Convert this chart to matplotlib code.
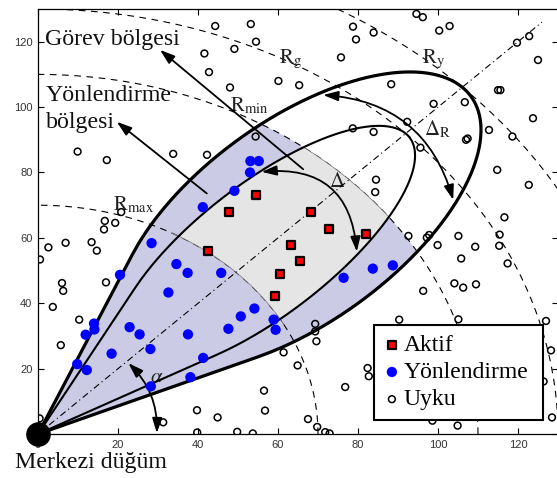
import numpy as np
import matplotlib
matplotlib.use('Agg')
import matplotlib.pyplot as plt

plt.rcParams['mathtext.fontset'] = 'stix'
SERIF = ['Liberation Serif', 'DejaVu Serif']

# node positions
aktif_x = [42.6, 47.7, 54.4, 68.3, 72.8, 63.3, 65.6, 60.5, 59.3, 81.9]
aktif_y = [55.9, 67.8, 73.0, 67.8, 62.8, 57.8, 52.8, 49.0, 42.1, 61.2]

yonl_x = [53.1, 55.2, 53.0, 49.1, 41.2, 28.4, 20.5, 34.6, 37.4, 45.8, 32.6,
          14.0, 14.1, 11.9, 22.9, 25.4, 18.4, 28.1, 37.5, 9.8, 12.2, 41.3,
          38.1, 28.2, 47.6, 50.7, 54.1, 58.9, 59.4, 76.4, 83.7, 88.7]
yonl_y = [83.5, 83.5, 80.0, 74.4, 69.4, 58.4, 48.7, 52.0, 49.3, 49.3, 43.3,
          33.8, 32.0, 30.4, 32.7, 30.5, 24.6, 26.0, 30.5, 21.4, 19.6, 23.3,
          17.4, 14.6, 32.2, 36.0, 38.4, 35.0, 31.9, 47.8, 50.6, 51.6]

uyku_x = [44.3, 53.2, 54.5, 41.6, 49.1, 42.75, 48.0, 60.1, 65.3, 9.9, 17.2,
          33.8, 42.25, 54.4, 20.8, 16.7, 19.3, 16.5, 2.6, 6.9, 13.4, 14.7,
          0.5, 6.0, 6.3, 3.7, 17.0, 10.3, 5.7, 0.4, 39.75, 44.9, 31.3, 39.8,
          49.8, 53.7, 56.5, 56.75, 94.6, 96.2, 78.75, 79.5, 83.9, 100.3,
          102.9, 75.75, 88.3, 119.75, 122.8, 125.0, 115.0, 115.6, 98.9,
          106.7, 123.75, 92.3, 78.7, 83.9, 112.75, 118.6, 107.4, 107.0, 95.6,
          114.8, 122.7, 84.5, 84.3, 116.6, 92.6, 97.8, 97.2, 105.1, 115.4,
          99.9, 109.3, 115.3, 105.8, 117.4, 104.1, 106.3, 109.5, 96.3, 105.1,
          127.0, 90.3, 128.25, 128.5, 126.4, 69.3, 69.3, 69.6, 61.4, 64.9,
          82.4, 82.7, 76.8, 67.5, 69.8, 71.8, 72.9, 98.6, 104.9]
uyku_y = [124.8, 125.4, 120.0, 116.4, 117.8, 110.7, 106.0, 108.0, 106.7, 86.4,
          83.8, 85.7, 85.4, 91.0, 67.9, 65.2, 64.6, 62.6, 57.1, 58.5, 58.7,
          56.1, 53.4, 46.2, 43.8, 38.9, 46.4, 35.0, 27.2, 4.8, 7.3, 5.1, 3.6,
          0.5, 0.7, 0.2, 13.3, 7.2, 128.5, 127.5, 124.6, 120.7, 122.8, 123.4,
          124.8, 115.2, 107.0, 119.7, 121.7, 114.4, 105.2, 105.2, 101.0,
          101.5, 96.6, 95.5, 93.5, 92.4, 93.0, 91.0, 90.4, 90.0, 87.6, 80.8,
          76.2, 77.8, 74.0, 66.3, 60.6, 60.9, 60.1, 60.6, 61.0, 57.8, 57.3,
          57.6, 53.7, 52.2, 46.1, 44.8, 45.8, 43.8, 35.1, 34.6, 35.0, 25.6,
          5.1, 16.1, 33.7, 31.4, 28.4, 25.0, 21.0, 20.2, 17.7, 14.4, 4.6, 2.2,
          0.6, 0.2, 4.1, 2.6]

circle_radii = [70, 110, 130, 150]
axis_angle = 45
# teardrops: ellipse cap (centre along axis, semi axes) + tangent lines from origin
outer_shape = (92, 58, 28.5)
inner_shape = (80, 50, 18.5)
r_low, r_high = 70, 110


def cap_radius(phi, c, a, b):
    A = np.cos(phi)**2 / a**2 + np.sin(phi)**2 / b**2
    B = -2 * c * np.cos(phi) / a**2
    C = c**2 / a**2 - 1
    disc = np.clip(B**2 - 4 * A * C, 0, None)
    return (-B + np.sqrt(disc)) / (2 * A)


def polar_xy(r, phi):
    th = np.radians(axis_angle) + phi
    return r * np.cos(th), r * np.sin(th)


def shape_polar(c, a, b, n=500):
    beta = np.arctan(b / np.sqrt(c**2 - a**2))
    phi = np.linspace(-beta, beta, n)
    return phi, cap_radius(phi, c, a, b)


fig = plt.figure(figsize=(5.57, 4.78), dpi=100)
ax = fig.add_axes([38 / 557, 43.9 / 478, 520 / 557, 425.1 / 478])

phi_o, r_o = shape_polar(*outer_shape)
phi_i, r_i = shape_polar(*inner_shape)

# lavender region
lx, ly = polar_xy(np.minimum(r_o, r_high), phi_o)
ax.fill(np.r_[0, lx, 0], np.r_[0, ly, 0], color='#CBCBE6', lw=0, zorder=1)

for R in circle_radii:
    t = np.linspace(0, np.pi / 2, 400)
    ax.plot(R * np.cos(t), R * np.sin(t), color='k', lw=0.8,
            ls=(0, (6, 5)), zorder=2)

# gray region
top = np.clip(r_i, r_low, r_high)
gx1, gy1 = polar_xy(top, phi_i)
gx2, gy2 = polar_xy(np.full_like(phi_i, r_low), phi_i[::-1])
ax.fill(np.r_[gx1, gx2], np.r_[gy1, gy2], facecolor='#E5E5E5',
        edgecolor='#777777', lw=0.5, zorder=3)

ax.plot([0, 126], [0, 126], color='k', lw=0.8, ls=(0, (6, 3, 1, 3)), zorder=4)

ox, oy = polar_xy(r_o, phi_o)
ax.plot(np.r_[0, ox, 0], np.r_[0, oy, 0], color='k', lw=2.3, zorder=5,
        solid_joinstyle='round')
ix, iy = polar_xy(r_i, phi_i)
ax.plot(np.r_[0, ix, 0], np.r_[0, iy, 0], color='k', lw=1.5, zorder=5)

# arrows
straight = dict(arrowstyle='-|>,head_length=0.9,head_width=0.3', lw=1.3,
                color='k', shrinkA=0, shrinkB=0, mutation_scale=10)
ax.annotate('', xy=(30.5, 117.5), xytext=(66.3, 81.0), arrowprops=straight,
            zorder=6)
ax.annotate('', xy=(19.7, 95.5), xytext=(42.2, 73.6), arrowprops=straight,
            zorder=6)
curved = [((55.9, 80.2), (79.7, 55.8), -0.5),
          ((71.3, 103.7), (103.8, 71.6), -0.35),
          ((22.6, 21.7), (29.7, 0.3), -0.22)]
for a_pt, b_pt, rad in curved:
    ax.annotate('', xy=b_pt, xytext=a_pt, zorder=6,
                arrowprops=dict(arrowstyle='<|-|>,head_length=0.9,head_width=0.3',
                                lw=1.3, color='k', shrinkA=0, shrinkB=0,
                                mutation_scale=10,
                                connectionstyle='arc3,rad=%s' % rad))

h1 = ax.scatter(aktif_x, aktif_y, marker='s', s=30, facecolor='#FF0000',
                edgecolor='k', lw=1.6, zorder=7, label='Aktif')
h2 = ax.scatter(yonl_x, yonl_y, marker='o', s=55, facecolor='#0000FF',
                edgecolor='none', zorder=7, label='Yönlendirme')
h3 = ax.scatter(uyku_x, uyku_y, marker='o', s=24, facecolor='none',
                edgecolor='k', lw=1.1, zorder=7, label='Uyku')

ax.scatter([0], [0], s=280, color='k', zorder=9, clip_on=False)

# labels
txt = dict(family=SERIF, fontsize=17.2, color='#111111')
ax.text(1.75, 118.9, 'Görev bölgesi', **txt)
ax.text(1.9, 102.0, 'Yönlendirme', **txt)
ax.text(1.9, 93.6, 'bölgesi', **txt)
ax.text(-5.75, -10.4, 'Merkezi düğüm', clip_on=False, **txt)
ml = dict(fontsize=15, color='#222222')
ax.text(18.75, 68.5, r'$\mathrm{R}_{\mathrm{max}}$', **ml)
ax.text(48.0, 98.6, r'$\mathrm{R}_{\mathrm{min}}$', **ml)
ax.text(60.2, 113.4, r'$\mathrm{R}_{\mathrm{g}}$', **ml)
ax.text(96.0, 113.4, r'$\mathrm{R}_{\mathrm{y}}$', **ml)
ax.text(96.4, 91.5, r'$\Delta_{\mathrm{R}}$', **ml)
ax.text(72.8, 75.5, r'$\Delta$', **ml)
ax.text(28.0, 15.9, r'$\alpha$', **ml)

leg = ax.legend(handles=[h1, h2, h3], loc='lower left', mode='expand',
                bbox_to_anchor=(0.6456, 0.0325, 0.325, 0.23), frameon=True,
                fancybox=False, framealpha=1, edgecolor='k', borderpad=0.42,
                labelspacing=0.24, handlelength=0.7, handletextpad=0.15,
                borderaxespad=0, prop=dict(family=SERIF, size=17))
leg.get_frame().set_linewidth(1.5)
leg.set_zorder(10)

ax.set_xlim(0, 130)
ax.set_ylim(0, 130)
ax.set_xticks(range(0, 121, 20))
ax.set_yticks(range(0, 121, 20))
ax.tick_params(direction='in', length=4.5, width=0.8, top=True, right=True,
               labelsize=8, labelcolor='#333333', pad=4)
for lab in ax.get_xticklabels() + ax.get_yticklabels():
    lab.set_family(['Liberation Sans', 'DejaVu Sans'])
for sp in ax.spines.values():
    sp.set_linewidth(0.9)

fig.savefig('out.png', dpi=100)
